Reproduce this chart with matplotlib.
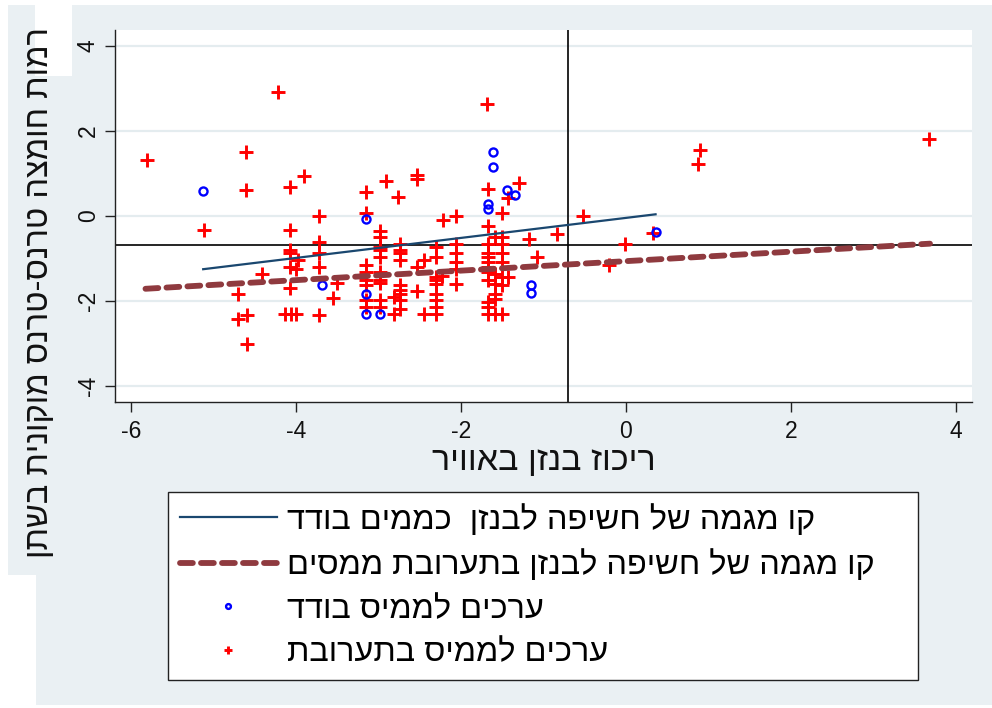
import matplotlib
matplotlib.use("Agg")
import matplotlib.pyplot as plt
from matplotlib.lines import Line2D
from matplotlib.patches import Rectangle

plt.rcParams['font.family'] = ['Liberation Sans', 'DejaVu Sans']
plt.rcParams['axes.unicode_minus'] = False

# ---- data -------------------------------------------------------------
# subjects exposed to a mixture of solvents
red_x = [-5.81, -5.12, -4.61, -4.61, -4.22, -4.71, -4.71, -4.60, -4.60, -4.42,
         -4.08, -3.91, -4.08, -4.08, -4.08, -3.98, -4.08, -4.00, -4.08, -4.14,
         -4.06, -4.00, -3.73, -3.73, -3.73, -3.73, -3.73, -3.50, -3.55,
         -3.15, -3.15, -3.15, -3.15, -3.15, -3.15, -3.15, -3.15,
         -2.99, -2.99, -2.99, -2.99, -2.99, -2.99, -2.99, -2.99, -2.99, -2.99,
         -2.91, -2.82, -2.82, -2.77, -2.74, -2.74, -2.74, -2.74, -2.74, -2.74,
         -2.74, -2.74, -2.74,
         -2.54, -2.54, -2.53, -2.53, -2.45, -2.45, -2.31, -2.31, -2.31, -2.31,
         -2.31, -2.31, -2.31, -2.31, -2.31, -2.22, -2.23, -2.06, -2.06, -2.06,
         -2.06, -2.06, -2.06, -1.69, -1.67, -1.67, -1.50, -1.43, -1.30,
         -1.67, -1.67, -1.67, -1.67, -1.67, -1.67, -1.67, -1.67, -1.67, -1.67,
         -1.59, -1.59, -1.59, -1.59, -1.59, -1.59,
         -1.50, -1.50, -1.50, -1.50, -1.50, -1.50, -1.50, -1.43,
         -1.17, -1.08, -0.84, -0.52, -0.01, -0.20,
         0.33, 0.90, 0.88, 3.68]
red_y = [1.31, -0.32, 1.50, 0.60, 2.91, -1.84, -2.41, -2.32, -3.00, -1.36,
         0.67, 0.93, -0.32, -0.81, -0.88, -1.04, -1.20, -1.24, -1.69, -2.30,
         -2.30, -2.30, -0.01, -0.61, -0.88, -1.20, -2.32, -1.58, -1.92,
         0.56, 0.07, -1.16, -1.32, -1.51, -1.63, -1.98, -2.13,
         -0.35, -0.49, -0.73, -0.81, -0.96, -1.32, -1.51, -1.58, -1.98, -2.13,
         0.82, -1.90, -2.30, 0.45, -0.65, -0.81, -0.88, -1.04, -1.63, -1.75,
         -1.83, -1.98, -2.18,
         0.96, 0.88, -1.20, -1.76, -1.04, -2.30, -0.73, -0.96, -1.44, -1.51,
         -1.59, -1.83, -1.98, -2.14, -2.30, -0.10, -1.40, -0.01, -0.65, -0.88,
         -1.08, -1.24, -1.59, 2.63, 0.63, -0.24, 0.08, 0.43, 0.78,
         -0.65, -0.88, -0.96, -1.08, -1.20, -1.32, -1.51, -2.02, -2.14, -2.30,
         -0.49, -1.36, -1.59, -1.83, -1.94, -2.30,
         -0.49, -0.65, -0.88, -1.08, -1.44, -1.63, -2.30, -1.44,
         -0.53, -0.96, -0.43, -0.01, -0.65, -1.16,
         -0.41, 1.56, 1.23, 1.80]

# subjects exposed to a single solvent
blue_x = [-5.13, -3.69, -3.15, -3.15, -3.15, -2.99, -1.61, -1.61, -1.67,
          -1.67, -1.44, -1.34, -1.15, -1.15, 0.36]
blue_y = [0.58, -1.61, -0.06, -1.83, -2.30, -2.30, 1.51, 1.15, 0.29,
          0.17, 0.60, 0.50, -1.61, -1.81, -0.38]

# fitted trend lines (end points)
fit_single_x = [-5.13, 0.36]
fit_single_y = [-1.25, 0.04]
fit_mix_x = [-5.83, 3.69]
fit_mix_y = [-1.71, -0.65]

# reference lines
ref_x = -0.70
ref_y = -0.69

x_ticks = [-6, -4, -2, 0, 2, 4]
y_ticks = [-4, -2, 0, 2, 4]

x_title = "ריכוז בנזן באוויר"
y_title = "רמות חומצה טרנס-טרנס מוקונית בשתן"
legend_labels = [
    "קו מגמה של חשיפה לבנזן  כממים בודד",
    "קו מגמה של חשיפה לבנזן בתערובת ממסים",
    "ערכים לממיס בודד",
    "ערכים לממיס בתערובת",
]


def rtl(s):
    """Hebrew is written right to left; matplotlib lays glyphs out left to right."""
    return s[::-1]


# ---- figure -----------------------------------------------------------
W, H = 992, 708
BG = '#eaf0f3'
fig = plt.figure(figsize=(W / 100, H / 100), dpi=100, facecolor='white')


def px_rect(x0, y0, x1, y1, color):
    fig.add_artist(Rectangle((x0 / W, 1 - y1 / H), (x1 - x0) / W, (y1 - y0) / H,
                             transform=fig.transFigure, facecolor=color,
                             edgecolor='none', zorder=-10))


px_rect(8, 5, W, 575, BG)
px_rect(36, 5, W, 705, BG)
px_rect(35, 5, 72, 76, 'white')

ax = fig.add_axes([115 / W, 1 - 402 / H, (972 - 115) / W, (402 - 30) / H])
ax.set_facecolor('white')
ax.set_xlim(-6.2, 4.2)
ax.set_ylim(-4.37, 4.37)

for s in ['top', 'right']:
    ax.spines[s].set_visible(False)
for s in ['left', 'bottom']:
    ax.spines[s].set_color('#222222')
    ax.spines[s].set_linewidth(1.0)

ax.set_xticks(x_ticks)
ax.set_yticks(y_ticks)
ax.set_xticklabels([str(t) for t in x_ticks])
ax.set_yticklabels([str(t) for t in y_ticks], rotation=90, va='center')
ax.tick_params(axis='both', length=7, width=1.0, color='#222222',
               labelsize=16.5, labelcolor='#111111')
ax.tick_params(axis='x', pad=6)
ax.tick_params(axis='y', pad=4)
ax.yaxis.grid(True, color='#e4ecef', linewidth=1.6)
ax.set_axisbelow(True)

ax.axvline(ref_x, color='black', linewidth=1.2, zorder=1.5)
ax.axhline(ref_y, color='black', linewidth=1.2, zorder=1.5)

ax.plot(red_x, red_y, linestyle='none', marker='+', markersize=9.5,
        markeredgewidth=2.1, color='#ff0000', zorder=2)
ax.plot(blue_x, blue_y, linestyle='none', marker='o', markersize=5.8,
        markeredgewidth=1.7, markerfacecolor='none', markeredgecolor='#0000ff',
        zorder=2.1)

ax.plot(fit_single_x, fit_single_y, color='#1a476f', linewidth=1.6, zorder=3)
ax.plot(fit_mix_x, fit_mix_y, color='#8f3a3f', linewidth=4.2,
        dashes=(2.2, 1.4), dash_capstyle='round', zorder=3)

fig.text(544 / W, 1 - 461 / H, rtl(x_title), fontsize=24.5, ha='center',
         va='center', color='#111111')
fig.text(40 / W, 1 - 293 / H, rtl(y_title), fontsize=23.5, ha='center',
         va='center', rotation=90, color='#111111')

handles = [
    Line2D([], [], color='#1a476f', linewidth=1.6),
    Line2D([], [], color='#8f3a3f', linewidth=4.2, dashes=(2.2, 1.4),
           dash_capstyle='round'),
    Line2D([], [], linestyle='none', marker='o', markersize=5.8,
           markeredgewidth=1.7, markerfacecolor='none', markeredgecolor='#0000ff'),
    Line2D([], [], linestyle='none', marker='+', markersize=9.5,
           markeredgewidth=2.1, color='#ff0000'),
]
leg = fig.legend(handles, [rtl(l) for l in legend_labels],
                 loc='upper left',
                 bbox_to_anchor=(168 / W, 1 - 492 / H, (918 - 168) / W, 0.0),
                 mode='expand', fontsize=23.4, frameon=True, fancybox=False,
                 edgecolor='#222222', facecolor='white', framealpha=1,
                 handlelength=3.0, handletextpad=0.3, borderpad=0.36,
                 labelspacing=0.42, markerscale=0.6, borderaxespad=0)
leg.get_frame().set_linewidth(1.0)

fig.savefig('out.png', dpi=100, facecolor=fig.get_facecolor())
